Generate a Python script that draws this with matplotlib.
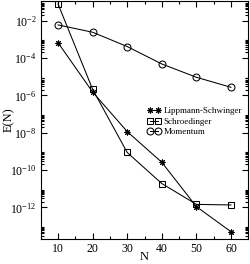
import matplotlib
matplotlib.use("Agg")
import matplotlib.pyplot as plt
from matplotlib.ticker import FixedLocator, FixedFormatter, MultipleLocator

N = [10, 20, 30, 40, 50, 60]
lippmann = [6.6e-4, 1.5e-6, 1.15e-8, 2.6e-10, 1.1e-12, 5e-14]
schroedinger = [7.8e-2, 2.1e-6, 8.7e-10, 1.9e-11, 1.45e-12, 1.35e-12]
momentum = [5.9e-3, 2.4e-3, 4.1e-4, 4.8e-5, 9.3e-6, 2.7e-6]

ytick_exps = [-2, -4, -6, -8, -10, -12]
ytick_labels = [r"$10^{%d}$" % e for e in ytick_exps]

plt.rcParams.update({
    "font.family": ["Liberation Serif", "DejaVu Serif"],
    "mathtext.fontset": "custom",
    "mathtext.rm": "Liberation Serif",
    "mathtext.it": "Liberation Serif:italic",
    "font.size": 8.5,
})

fig = plt.figure(figsize=(2.5, 2.64), dpi=100)
ax = fig.add_axes([0.163, 0.095, 0.830, 0.901])

kw = dict(color="black", lw=0.75, mfc="none", mec="black", mew=0.75)
ax.plot(N, lippmann, marker=(8, 2, 0), ms=4.2, label="Lippmann-Schwinger", **kw)
ax.plot(N, schroedinger, marker="s", ms=3.7, label="Schroedinger", **kw)
ax.plot(N, momentum, marker="o", ms=5, label="Momentum", **kw)

ax.set_yscale("log")
ax.set_xlim(5, 65)
ax.set_ylim(2.05e-14, 1.12e-1)

ax.xaxis.set_major_locator(MultipleLocator(10))
ax.xaxis.set_minor_locator(MultipleLocator(5))
ax.yaxis.set_major_locator(FixedLocator([10.0 ** e for e in ytick_exps]))
ax.yaxis.set_major_formatter(FixedFormatter(ytick_labels))
minors = [m * 10.0 ** e for e in range(-14, 0, 2) for m in range(2, 10)]
ax.yaxis.set_minor_locator(FixedLocator(minors))
ax.yaxis.set_minor_formatter(FixedFormatter([""] * len(minors)))

ax.tick_params(which="both", direction="in", top=True, right=True, width=0.8)
ax.tick_params(which="major", length=4.5, labelsize=8.5, pad=3)
ax.tick_params(which="minor", length=2.2)
for s in ax.spines.values():
    s.set_linewidth(0.8)

ax.set_xlabel("N", fontsize=9, va="center")
ax.xaxis.set_label_coords(0.5, -0.075)
ax.set_ylabel("E(N)", fontsize=9, va="center")
ax.yaxis.set_label_coords(-0.155, 0.5)

ax.legend(loc="upper left", bbox_to_anchor=(0.515, 0.555), frameon=False,
          numpoints=2, fontsize=6.5, handlelength=1.5, handletextpad=0.3,
          labelspacing=0.25, borderpad=0, borderaxespad=0)

fig.savefig("out.png", dpi=100)
